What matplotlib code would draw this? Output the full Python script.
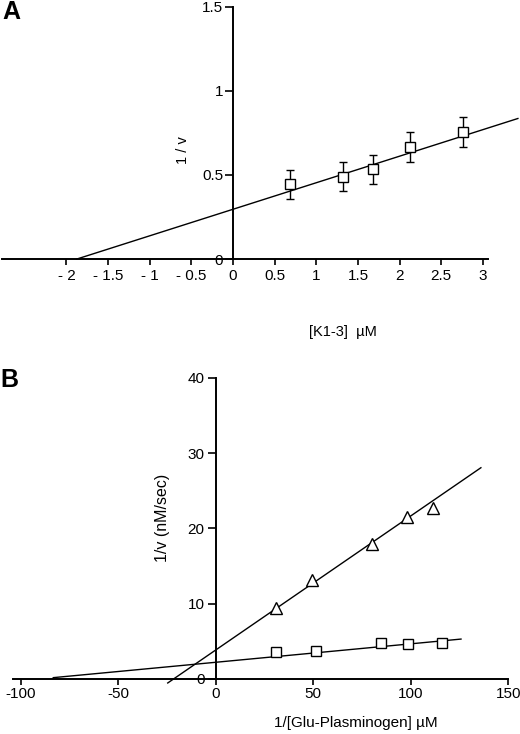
import matplotlib
matplotlib.use("Agg")
import matplotlib.pyplot as plt
import numpy as np

plt.rcParams["font.family"] = ["Liberation Sans", "DejaVu Sans"]

# panel A: 1/v vs [K1-3]
a_x = [0.69, 1.32, 1.68, 2.13, 2.76]
a_y = [0.444, 0.49, 0.534, 0.667, 0.756]
a_err = [0.088, 0.088, 0.088, 0.088, 0.088]
a_fit_x = [-1.876, 3.42]
a_slope, a_icept = 0.158, 0.296
a_xticks = [-2, -1.5, -1, -0.5, 0, 0.5, 1, 1.5, 2, 2.5, 3]
a_xlabels = ["- 2", "- 1.5", "- 1", "- 0.5", "0", "0.5", "1", "1.5", "2", "2.5", "3"]
a_yticks = [0, 0.5, 1, 1.5]
a_ylabels = ["0", "0.5", "1", "1.5"]

# panel B: Lineweaver-Burk
b_tri_x = [30.9, 49.2, 80.3, 98.3, 111.6]
b_tri_y = [9.47, 13.1, 17.9, 21.5, 22.7]
b_sq_x = [30.9, 51.3, 84.8, 98.8, 116.1]
b_sq_y = [3.59, 3.68, 4.78, 4.69, 4.74]
b_tri_fit_x = [-24.6, 136]
b_tri_slope, b_tri_icept = 0.178, 3.85
b_sq_fit_x = [-83.3, 125.8]
b_sq_slope, b_sq_icept = 0.0245, 2.22
b_xticks = [-100, -50, 0, 50, 100, 150]
b_yticks = [0, 10, 20, 30, 40]

W, H = 520, 734
fig = plt.figure(figsize=(W / 100, H / 100), dpi=100)


def make_axes(x0_px, y0_px, px_x, px_y, ylo, yhi):
    # axes covering full width; data origin at pixel (x0_px, y0_px)
    xlim = (-x0_px / px_x, (W - x0_px) / px_x)
    bottom_px = y0_px - ylo * px_y
    top_px = y0_px - yhi * px_y
    ax = fig.add_axes([0, (H - bottom_px) / H, 1, (bottom_px - top_px) / H])
    ax.set_xlim(*xlim)
    ax.set_ylim(ylo, yhi)
    ax.patch.set_alpha(0)
    for s in ("top", "right"):
        ax.spines[s].set_visible(False)
    ax.spines["left"].set_position(("data", 0))
    ax.spines["bottom"].set_position(("data", 0))
    for s in ("left", "bottom"):
        ax.spines[s].set_linewidth(1.4)
    ax.tick_params(direction="out", width=1.2, labelsize=11, color="black")
    return ax


# ---- A ----
axA = make_axes(233, 259, 83.3, 168, 0, 1.52)
axA.spines["bottom"].set_bounds(-2.77, 3.06)
axA.spines["left"].set_bounds(0, 1.5)
axA.set_xticks(a_xticks, a_xlabels)
axA.set_yticks(a_yticks, a_ylabels)
axA.tick_params(axis="x", length=4, pad=3)
axA.tick_params(axis="y", length=6, pad=1)
fx = np.array(a_fit_x)
axA.plot(fx, a_icept + a_slope * fx, color="black", lw=1.0, clip_on=False, zorder=2)
axA.errorbar(a_x, a_y, yerr=a_err, fmt="s", ms=7, mfc="white", mec="black", mew=1.0,
             ecolor="black", elinewidth=1.0, capsize=3, capthick=1.0, zorder=3, clip_on=False)
fig.text(183 / W, 1 - 150 / H, "1 / v", rotation=90, ha="center", va="center", fontsize=10.5)
fig.text(343 / W, 1 - 332 / H, "[K1-3]  µM", ha="center", va="center", fontsize=10.5)
fig.text(2 / W, 1 - 12 / H, "A", ha="left", va="center", fontsize=18, fontweight="bold")

# ---- B ----
axB = make_axes(215.7, 679, 1.95, 7.53, -1, 41)
axB.spines["bottom"].set_bounds(-103.8, 150)
axB.spines["left"].set_bounds(0, 40)
axB.set_xticks(b_xticks, [str(t) for t in b_xticks])
axB.set_yticks(b_yticks, [str(t) for t in b_yticks])
axB.tick_params(axis="x", length=4, pad=2)
axB.tick_params(axis="y", length=6, pad=2)
fx = np.array(b_tri_fit_x)
axB.plot(fx, b_tri_icept + b_tri_slope * fx, color="black", lw=1.0, clip_on=False)
fx = np.array(b_sq_fit_x)
axB.plot(fx, b_sq_icept + b_sq_slope * fx, color="black", lw=1.0, clip_on=False)
axB.plot(b_tri_x, b_tri_y, "^", ms=8, mfc="white", mec="black", mew=1.0, ls="none", zorder=3)
axB.plot(b_sq_x, b_sq_y, "s", ms=7, mfc="white", mec="black", mew=1.0, ls="none", zorder=3)
fig.text(163 / W, 1 - 518 / H, "1/v (nM/sec)", rotation=90, ha="center", va="center", fontsize=11.5)
fig.text(356 / W, 1 - 723 / H, "1/[Glu-Plasminogen] µM", ha="center", va="center", fontsize=11)
fig.text(0 / W, 1 - 380 / H, "B", ha="left", va="center", fontsize=18, fontweight="bold")

fig.savefig("out.png", dpi=100)
